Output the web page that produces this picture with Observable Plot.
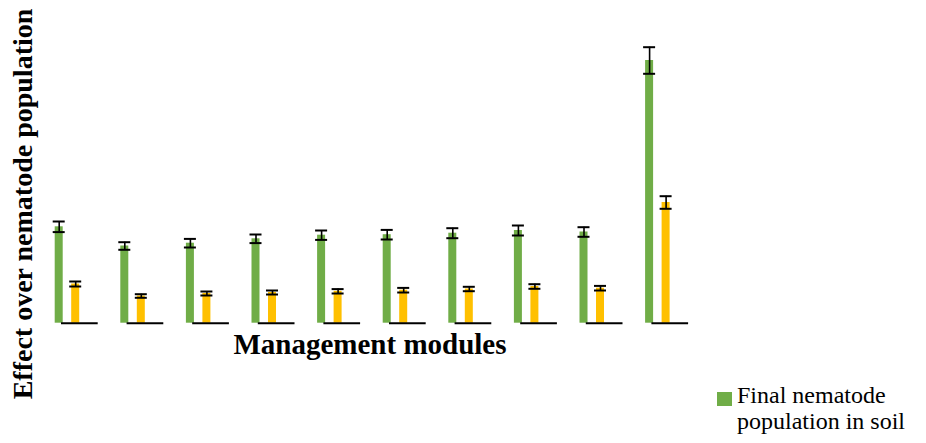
<!DOCTYPE html>
<html>
<head>
<meta charset="utf-8">
<script src="https://cdn.jsdelivr.net/npm/d3@7"></script>
<script src="https://cdn.jsdelivr.net/npm/@observablehq/plot@0.6"></script>
<style>
  html, body { margin: 0; padding: 0; background: #fff; }
  #wrap { position: relative; width: 926px; height: 443px; overflow: hidden; font-family: "Liberation Serif", "Times New Roman", serif; color: #000; }
  #chart { position: absolute; left: 0; top: 0; }
  .ylab { position: absolute; left: 23px; top: 204px; transform: translate(-50%, -50%) rotate(-90deg); white-space: nowrap; font-family: "Liberation Serif", serif; font-weight: bold; font-size: 28px; line-height: 28px; }
  .xlab { position: absolute; left: 370px; top: 330px; transform: translateX(-50%); white-space: nowrap; font-family: "Liberation Serif", serif; font-weight: bold; font-size: 29px; line-height: 29px; }
  .legend { position: absolute; left: 717px; top: 381.6px; font-family: "Liberation Serif", serif; font-size: 24px; line-height: 26.7px; }
  .legend .sw { position: absolute; left: 0; top: 10.5px; width: 15px; height: 14px; background: #70AD47; }
  .legend .tx { position: absolute; left: 20px; top: 0; white-space: nowrap; }
</style>
</head>
<body>
<div id="wrap">
  <div id="chart"></div>
  <div class="ylab">Effect over nematode population</div>
  <div class="xlab">Management modules</div>
  <div class="legend"><div class="sw"></div><div class="tx">Final nematode<br>population in soil</div></div>
</div>
<script>
const modules = ["M1", "M2", "M3", "M4", "M5", "M6", "M7", "M8", "M9", "M10"];
const seriesNames = ["Final nematode population in soil", "Second measure"];
const finalPop = [96.4, 77.2, 80.0, 84.4, 88.0, 88.5, 90.0, 92.7, 91.2, 262.7];
const finalErr = [5.3, 3.8, 4.3, 4.3, 4.7, 4.8, 5.0, 5.0, 4.8, 13.3];
const secondVal = [39.2, 27.2, 29.7, 30.7, 31.9, 33.0, 34.2, 36.7, 35.0, 120.7];
const secondErr = [2.5, 1.8, 2.0, 2.0, 2.2, 2.3, 2.2, 2.3, 2.3, 6.3];
const colors = ["#70AD47", "#FFC000"];

const rows = modules.flatMap((m, i) => [
  {module: m, series: seriesNames[0], value: finalPop[i], err: finalErr[i]},
  {module: m, series: seriesNames[1], value: secondVal[i], err: secondErr[i]}
]);

const chart = Plot.plot({
  width: 926,
  height: 443,
  marginLeft: 54.7,
  marginRight: 237.9,
  marginTop: 42.7,
  marginBottom: 120.3,
  fx: {domain: modules, paddingInner: 0.3445, paddingOuter: 0, round: false, axis: null, label: null},
  x: {domain: seriesNames, paddingInner: 0.515, paddingOuter: 0.5605, align: 0, round: false, axis: null},
  y: {domain: [0, 280], axis: null},
  color: {domain: seriesNames, range: colors},
  marks: [
    Plot.barY(rows, {fx: "module", x: "series", y: "value", fill: "series"}),
    Plot.ruleY([0], {stroke: "black", strokeWidth: 2, insetLeft: 6.3}),
    Plot.ruleX(rows, {fx: "module", x: "series", y1: d => d.value - d.err, y2: d => d.value + d.err, stroke: "black", strokeWidth: 1.6}),
    Plot.tickY(rows, {fx: "module", x: "series", y: d => d.value + d.err, stroke: "black", strokeWidth: 2, insetLeft: -2, insetRight: -2}),
    Plot.tickY(rows, {fx: "module", x: "series", y: d => d.value - d.err, stroke: "black", strokeWidth: 2, insetLeft: -2, insetRight: -2})
  ]
});
document.getElementById("chart").appendChild(chart);
</script>
</body>
</html>
